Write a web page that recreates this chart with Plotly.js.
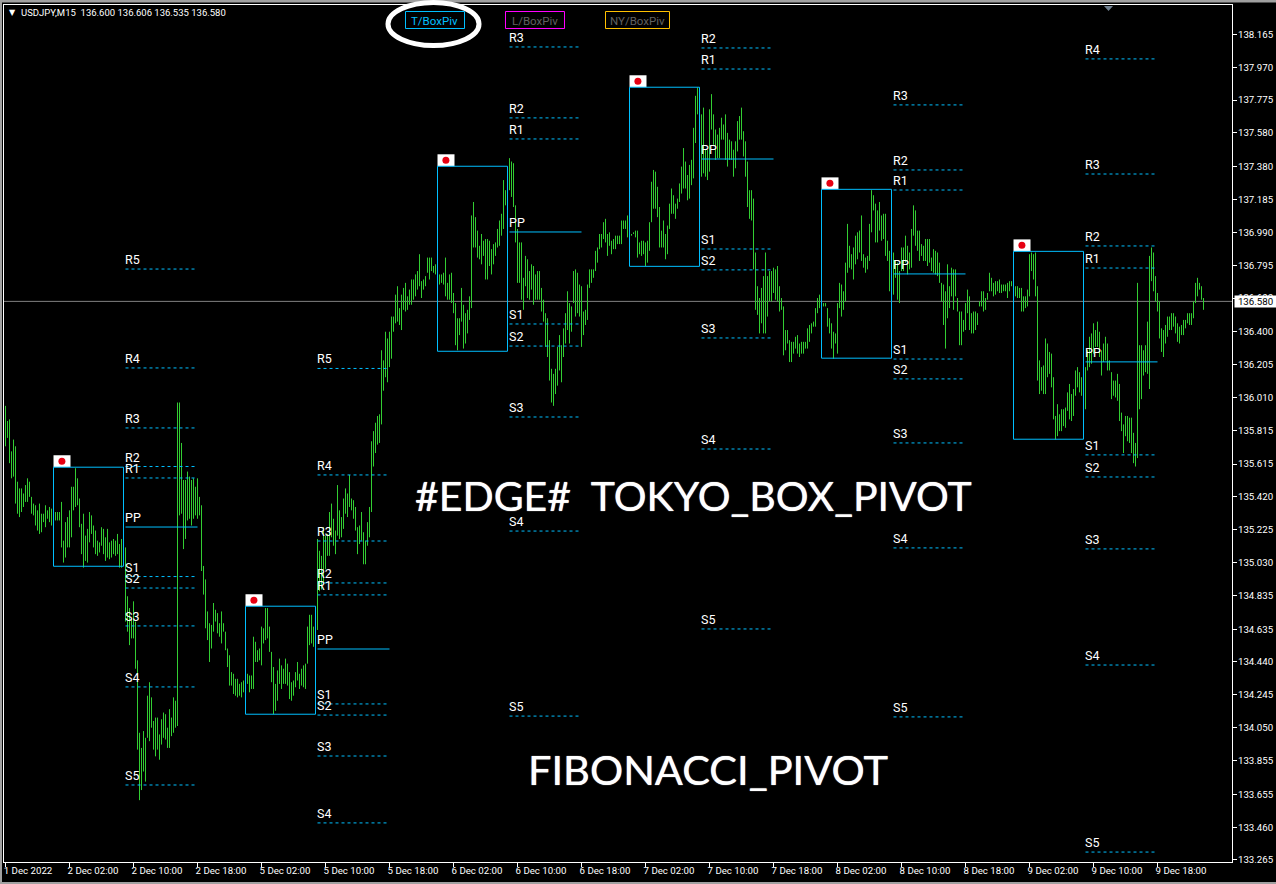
<!DOCTYPE html>
<html><head><meta charset="utf-8">
<script src="https://cdn.plot.ly/plotly-3.0.1.min.js"></script>
<style>html,body{margin:0;padding:0;background:#000;overflow:hidden}#c{width:1276px;height:884px}</style>
</head><body><div id="c"></div>
<script>
// High / low of each M15 bar
const barsA=[[135.96,135.72],[135.87,135.77],[135.88,135.62],[135.69,135.53],[135.76,135.54],[135.72,135.38],[135.51,135.32],[135.47,135.30],[135.47,135.33],[135.44,135.36],
[135.49,135.39],[135.53,135.39],[135.51,135.42],[135.42,135.32],[135.38,135.31],[135.37,135.25],[135.34,135.22],[135.38,135.20],[135.32,135.21],[135.32,135.27],
[135.37,135.24],[135.34,135.29],[135.36,135.27],[135.35,135.25],[135.36,135.30],[135.33,135.28],[135.33,135.28],[135.33,135.28],[135.39,135.12],[135.16,135.03],
[135.27,135.06],[135.30,135.12],[135.34,135.12],[135.48,135.18],[135.48,135.34],[135.59,135.36],[135.53,135.37],[135.41,135.24],[135.26,135.08],[135.32,135.00],
[135.19,135.04],[135.23,135.03],[135.33,135.15],[135.31,135.20],[135.25,135.12],[135.22,135.08],[135.16,135.07],[135.15,135.09],[135.24,135.13],[135.23,135.08],
[135.18,135.04],[135.23,135.06],[135.15,135.05],[135.16,135.06],[135.17,135.08],[135.16,135.07],[135.20,135.08],[135.14,135.00],[135.17,135.00],[135.17,135.02],
[135.12,134.68],[134.83,134.62],[134.76,134.54],[134.70,134.58],[134.80,134.58],[134.68,134.40],[134.45,133.92],[134.02,133.62],[133.93,133.68],[134.03,133.79],
[133.99,133.73],[134.24,133.99],[134.32,133.97],[134.23,134.05],[134.09,133.92],[134.11,133.88],[134.11,133.92],[134.01,133.86],[134.10,133.95],[134.14,133.99],
[134.13,133.98],[134.05,133.93],[134.16,133.93],[134.11,134.00],[134.23,134.02],[134.21,134.05],[135.98,134.06],[135.98,135.31],[135.74,135.32],[135.52,135.11],
[135.52,135.17],[135.57,135.28],[135.54,135.29],[135.52,135.25],[135.53,135.29],[135.48,135.31],[135.53,135.29],[135.42,135.31],[135.37,134.98],[135.01,134.84],
[134.93,134.64],[134.74,134.57],[134.67,134.44],[134.66,134.52],[134.79,134.62],[134.75,134.68],[134.73,134.61],[134.67,134.59],[134.74,134.55],[134.67,134.62],
[134.62,134.51],[134.52,134.41],[134.48,134.30],[134.38,134.30],[134.37,134.25],[134.34,134.24],[134.34,134.23],[134.31,134.24],[134.32,134.23],[134.33,134.26],
[134.36,134.31],[134.37,134.31],[134.36,134.26],[134.36,134.28],[134.59,134.28],[134.56,134.44],[134.51,134.44],[134.52,134.45],[134.65,134.42],[134.64,134.55],
[134.76,134.57],[134.76,134.58],[134.65,134.50],[134.50,134.32],[134.41,134.13],[134.31,134.15],[134.39,134.21],[134.46,134.31],[134.42,134.28],[134.40,134.31],
[134.46,134.31],[134.43,134.30],[134.38,134.22],[134.32,134.21],[134.33,134.24],[134.38,134.29],[134.44,134.33],[134.37,134.28],[134.40,134.30],[134.42,134.29],
[134.43,134.28],[134.65,134.43],[134.72,134.54],[134.72,134.55],[134.65,134.53],[134.62,134.50]];
const barsB=[[135.17,134.63],[135.10,134.86],[135.07,134.87],[135.24,134.91],[135.19,134.99],[135.20,135.07],[135.33,135.07],[135.38,135.18],[135.29,135.13],[135.22,135.08],
[135.49,135.19],[135.34,135.17],[135.30,135.18],[135.41,135.23],[135.47,135.32],[135.44,135.30],[135.55,135.36],[135.41,135.34],[135.40,135.29],[135.36,135.22],
[135.24,135.08],[135.25,135.14],[135.33,135.16],[135.21,135.02],[135.16,135.02],[135.27,135.13],[135.36,135.18],[135.75,135.33],[135.81,135.60],[135.86,135.68],
[135.90,135.73],[135.91,135.74],[136.29,135.85],[136.23,136.05],[136.40,136.13],[136.36,136.10],[136.40,136.19],[136.49,136.24],[136.49,136.40],[136.62,136.45],
[136.67,136.46],[136.54,136.44],[136.62,136.41],[136.66,136.53],[136.69,136.52],[136.61,136.53],[136.65,136.56],[136.71,136.56],[136.71,136.59],[136.74,136.61],
[136.76,136.65],[136.86,136.67],[136.70,136.60],[136.71,136.65],[136.73,136.67],[136.84,136.75],[136.84,136.71],[136.84,136.76],[136.79,136.75],[136.80,136.74],
[136.75,136.61],[136.74,136.68],[136.74,136.69],[136.75,136.68],[136.84,136.61],[136.69,136.59],[136.74,136.59],[136.75,136.57],[136.63,136.51],[136.57,136.32],
[136.48,136.29],[136.48,136.38],[136.66,136.46],[136.56,136.30],[136.51,136.33],[136.53,136.39],[136.61,136.47],[137.09,136.54],[137.17,136.90],[137.08,136.90],
[137.00,136.84],[136.91,136.83],[136.98,136.80],[136.94,136.85],[136.95,136.71],[136.95,136.71],[136.94,136.79],[136.89,136.74],[136.92,136.80],[136.93,136.85],
[137.01,136.90],[137.06,136.91],[137.10,136.97],[137.30,137.01],[137.24,137.15],[137.36,137.24],[137.43,137.24],[137.41,137.20],[137.40,137.14],[137.15,136.93],
[137.01,136.69],[136.93,136.69],[136.93,136.59],[136.72,136.53],[136.85,136.67],[136.83,136.60],[136.76,136.59],[136.80,136.65],[136.79,136.56],[136.74,136.59],
[136.76,136.59],[136.76,136.59],[136.66,136.52],[136.59,136.46],[136.51,136.31],[136.48,136.25],[136.35,136.11],[136.18,135.98],[136.15,135.96],[136.18,136.03],
[136.31,136.08],[136.38,136.17],[136.32,136.10],[136.42,136.25],[136.51,136.33],[136.64,136.41],[136.57,136.33],[136.55,136.40],[136.76,136.57],[136.77,136.49],
[136.75,136.51],[136.68,136.49],[136.67,136.31],[136.52,136.38],[136.53,136.44],[136.68,136.47],[136.77,136.66],[136.77,136.69],[136.77,136.72],[136.88,136.76],
[136.90,136.81],[136.98,136.89],[136.98,136.90],[137.05,136.95],[137.07,136.93],[136.98,136.85],[136.99,136.91],[136.94,136.86],[136.95,136.89],[136.97,136.89],
[136.97,136.92],[136.97,136.92]];
const barsC=[[137.06,136.92],[137.06,137.01],[137.06,137.01],[137.09,136.96],[137.08,136.98],[136.98,136.97],[136.99,136.98],[137.00,136.96],[137.00,136.84],[136.93,136.86],
[136.94,136.85],[136.94,136.86],[136.93,136.79],[136.94,136.81],[137.05,136.88],[137.29,137.05],[137.36,137.13],[137.35,137.13],[137.26,137.08],[137.14,136.90],
[137.00,136.90],[137.06,136.90],[136.98,136.83],[137.03,136.86],[137.16,137.01],[137.25,137.10],[137.21,137.10],[137.16,137.07],[137.19,137.13],[137.28,137.17],
[137.38,137.22],[137.49,137.25],[137.41,137.25],[137.33,137.18],[137.39,137.19],[137.42,137.27],[137.61,137.31],[137.80,137.52],[137.85,137.69],[137.76,137.56],
[137.69,137.32],[137.73,137.34],[137.48,137.32],[137.48,137.30],[137.72,137.35],[137.81,137.60],[137.69,137.51],[137.60,137.42],[137.57,137.43],[137.61,137.43],
[137.67,137.54],[137.63,137.54],[137.69,137.42],[137.58,137.38],[137.54,137.42],[137.53,137.42],[137.48,137.32],[137.53,137.37],[137.65,137.47],[137.68,137.54],
[137.73,137.54],[137.59,137.44],[137.53,137.32],[137.41,137.14],[137.24,137.07],[137.24,137.06],[137.19,136.77],[136.87,136.53],[136.67,136.50],[136.60,136.39],
[136.66,136.45],[136.73,136.39],[136.87,136.39],[136.73,136.49],[136.76,136.58],[136.76,136.58],[136.78,136.63],[136.77,136.59],[136.79,136.58],[136.67,136.52],
[136.60,136.53],[136.55,136.26],[136.41,136.29],[136.41,136.33],[136.35,136.22],[136.34,136.22],[136.34,136.27],[136.37,136.30],[136.38,136.27],[136.33,136.25],
[136.34,136.27],[136.34,136.27],[136.34,136.30],[136.42,136.30],[136.44,136.34],[136.45,136.39],[136.46,136.43],[136.54,136.43],[136.60,136.51],[136.62,136.54],
[136.59,136.51],[136.57,136.55],[136.57,136.55],[136.54,136.43],[136.48,136.39],[136.45,136.30],[136.40,136.24],[136.39,136.33],[136.57,136.27],[136.69,136.54],
[136.68,136.49],[136.64,136.53],[136.81,136.58],[137.04,136.75],[136.91,136.78],[136.86,136.77],[136.90,136.71],[136.97,136.80],[136.99,136.83],[137.00,136.87],
[137.09,136.82],[136.86,136.78],[136.84,136.75],[136.85,136.77],[137.04,136.82],[137.24,136.99],[137.21,137.12],[137.16,136.93],[137.12,136.93],[137.17,137.00],
[137.09,136.94],[137.10,136.95],[137.10,136.85],[136.94,136.82],[136.88,136.64],[136.86,136.69],[136.87,136.62],[136.82,136.72],[136.81,136.59],[136.76,136.57],
[136.90,136.76],[136.90,136.76],[136.97,136.81],[136.91,136.74],[136.87,136.77],[137.01,136.78],[137.15,136.97],[137.12,136.91],[137.00,136.88],[137.00,136.82]];
const barsD=[[136.92,136.85],[136.91,136.82],[136.95,136.82],[136.95,136.79],[136.95,136.81],[136.84,136.76],[136.89,136.75],[136.88,136.74],[136.87,136.73],[136.81,136.69],
[136.69,136.58],[136.68,136.44],[136.64,136.30],[136.80,136.48],[136.67,136.54],[136.78,136.61],[136.77,136.53],[136.77,136.61],[136.60,136.52],[136.52,136.32],
[136.52,136.32],[136.47,136.40],[136.57,136.41],[136.65,136.51],[136.61,136.41],[136.51,136.39],[136.52,136.39],[136.52,136.41],[136.51,136.44],[136.58,136.55],
[136.64,136.55],[136.64,136.52],[136.60,136.53],[136.63,136.59],[136.75,136.64],[136.72,136.64],[136.69,136.61],[136.70,136.62],[136.70,136.64],[136.71,136.63],
[136.68,136.63],[136.68,136.64],[136.68,136.64],[136.69,136.60],[136.70,136.64],[136.70,136.67],[136.67,136.62],[136.67,136.61],[136.67,136.60],[136.66,136.60],
[136.66,136.52],[136.61,136.52],[136.61,136.54],[136.65,136.55],[136.86,136.61],[136.87,136.76],[136.86,136.71],[136.87,136.61],[136.67,136.11],[136.23,136.03],
[136.19,136.05],[136.20,136.03],[136.36,136.03],[136.33,136.13],[136.28,136.15],[136.27,136.07],[136.13,135.88],[135.90,135.76],[135.97,135.78],[135.91,135.81],
[135.94,135.81],[135.94,135.84],[135.95,135.83],[136.04,135.93],[136.09,135.88],[136.03,135.87],[136.06,135.90],[136.17,136.02],[136.19,136.07],[136.16,136.04],
[136.13,136.02],[136.17,135.97],[136.19,135.94],[136.29,136.17],[136.37,136.19],[136.39,136.21],[136.45,136.27],[136.41,136.31],[136.46,136.31],[136.40,136.25],
[136.29,136.14],[136.33,136.22],[136.37,136.23],[136.33,136.17],[136.23,136.17],[136.16,136.00],[136.11,136.02],[136.11,136.01],[136.15,135.99],[136.09,135.87],
[135.92,135.81],[135.85,135.68],[135.90,135.78],[135.90,135.75],[135.89,135.74],[135.89,135.68],[135.80,135.62],[135.74,135.60],[136.69,135.65],[136.32,135.94],
[136.32,136.00],[136.29,136.14],[136.32,136.16],[136.46,136.15],[136.85,136.06],[136.90,136.70],[136.87,136.64],[136.73,136.58],[136.63,136.52],[136.58,136.36],
[136.42,136.28],[136.41,136.25],[136.44,136.33],[136.49,136.37],[136.49,136.41],[136.51,136.41],[136.51,136.43],[136.49,136.39],[136.45,136.34],[136.43,136.33],
[136.44,136.38],[136.47,136.38],[136.47,136.42],[136.51,136.45],[136.51,136.44],[136.51,136.44],[136.58,136.48],[136.69,136.57],[136.72,136.61],[136.69,136.65],
[136.67,136.59],[136.60,136.53]];
const bars=[...barsA,...barsB,...barsC,...barsD];

// Price scale and time scale
const priceTicks=[138.165,137.970,137.775,137.580,137.380,137.185,136.990,136.795,136.600,136.400,136.205,136.010,135.815,135.615,135.420,135.225,135.030,134.835,134.635,134.440,134.245,134.050,133.855,133.655,133.460,133.265];
const timeLabels=["1 Dec 2022","2 Dec 02:00","2 Dec 10:00","2 Dec 18:00","5 Dec 02:00","5 Dec 10:00","5 Dec 18:00","6 Dec 02:00","6 Dec 10:00","6 Dec 18:00","7 Dec 02:00","7 Dec 10:00","7 Dec 18:00","8 Dec 02:00","8 Dec 10:00","8 Dec 18:00","9 Dec 02:00","9 Dec 10:00","9 Dec 18:00"];
const lastPrice=136.58;

// Tokyo boxes: first bar, high, low
const boxStart=[24,120,216,312,408,504];
const boxHigh=[135.596,134.771,137.382,137.851,137.245,136.877];
const boxLow=[135.008,134.130,136.284,136.788,136.243,135.762];
const boxBars=35;

// Fibonacci pivot levels by day
const pivotStart=[60,156,252,348,444,540];
const pivotNames=[
 ["R5","R4","R3","R2","R1","PP","S1","S2","S3","S4","S5"],
 ["R5","R4","R3","R2","R1","PP","S1","S2","S3","S4"],
 ["R3","R2","R1","PP","S1","S2","S3","S4","S5"],
 ["R2","R1","PP","S1","S2","S3","S4","S5"],
 ["R3","R2","R1","PP","S1","S2","S3","S4","S5"],
 ["R4","R3","R2","R1","PP","S1","S2","S3","S4","S5"]];
const pivotLevels=[
 [136.772,136.185,135.829,135.600,135.532,135.241,134.947,134.879,134.654,134.292,133.710],
 [136.182,135.550,135.158,134.909,134.838,134.517,134.191,134.125,133.882,133.485],
 [138.090,137.669,137.544,136.992,136.446,136.315,135.894,135.217,134.119],
 [138.084,137.959,137.425,136.891,136.767,136.363,135.704,134.636],
 [137.746,137.360,137.241,136.743,136.238,136.120,135.740,135.117,134.114],
 [138.019,137.336,136.909,136.778,136.221,135.669,135.538,135.111,134.422,133.312]];

const LIME='#32CD32', SKY='#00BFFF';
const xRange=[-0.75,613.25], yRange=[133.253,138.339];
const tickBars=timeLabels.map((_,i)=>i*32);

// build traces from the data
const bx=[],by=[];
bars.forEach((b,i)=>{bx.push(i,i,null);by.push(b[0],b[1],null);});
const dx=[],dy=[],sx=[],sy=[],levelNotes=[];
pivotLevels.forEach((lv,g)=>{
  const s=pivotStart[g];
  lv.forEach((v,j)=>{
    const n=pivotNames[g][j];
    if(n==='PP'){sx.push(s,s+36,null);sy.push(v,v,null);}
    else{dx.push(s,s+34.5,null);dy.push(v,v,null);}
    levelNotes.push({xref:'x',yref:'y',x:s,y:v,text:n,showarrow:false,xanchor:'left',yanchor:'middle',xshift:-2,yshift:9.5,borderpad:0,
      font:{family:'Roboto',size:12.5,color:'#fff'}});
  });
});
const data=[
 {type:'scatter',mode:'lines',x:xRange,y:[lastPrice,lastPrice],line:{color:'#808080',width:1},hoverinfo:'skip'},
 {type:'scatter',mode:'lines',x:bx,y:by,line:{color:LIME,width:1,simplify:false},hoverinfo:'skip'},
 {type:'scatter',mode:'lines',x:dx,y:dy,line:{color:SKY,width:1,dash:'3px,3px',simplify:false},hoverinfo:'skip'},
 {type:'scatter',mode:'lines',x:sx,y:sy,line:{color:SKY,width:1,simplify:false},hoverinfo:'skip'},
 {type:'scatter',mode:'markers',x:boxStart.map(s=>s+4.2),y:boxHigh.map(h=>h+0.036),marker:{color:'#E60012',size:7,symbol:'circle'},hoverinfo:'skip'},
 {type:'scatter',mode:'none',x:[0],y:[135],xaxis:'x2',hoverinfo:'skip'}
];

const shapes=[];
boxStart.forEach((s,i)=>{
  shapes.push({type:'rect',xref:'x',yref:'y',x0:s,x1:s+boxBars,y0:boxLow[i],y1:boxHigh[i],line:{color:SKY,width:1},fillcolor:'rgba(0,0,0,0)',layer:'above'});
  shapes.push({type:'rect',xref:'x',yref:'y',x0:s,x1:s+8.5,y0:boxHigh[i],y1:boxHigh[i]+0.071,line:{width:0},fillcolor:'#fff',layer:'below'});
});
const W=1228,H=857;
const px=v=>(v-4)/W, py=v=>1-(v-5)/H;
function button(x0,x1,y0,y1,col){return {type:'rect',xref:'paper',yref:'paper',x0:px(x0),x1:px(x1),y0:py(y1),y1:py(y0),line:{color:col,width:1},fillcolor:'#000',layer:'above'};}
function band(x0,x1,y0,y1){return {type:'rect',xref:'paper',yref:'paper',x0:px(x0),x1:px(x1),y0:py(y1),y1:py(y0),line:{width:0},fillcolor:'#A0A0A0',layer:'above'};}
shapes.push(band(0,1276,0,2.5),band(0,2,0,884),band(0,1276,882,884));
shapes.push(button(405.5,464.5,11.5,28.5,SKY),button(505.5,564.5,11.5,28.5,'#FF00FF'),button(605.5,669.5,11.5,28.5,'#FFC000'));
shapes.push({type:'circle',xref:'paper',yref:'paper',x0:px(388),x1:px(479),y0:py(45.5),y1:py(2.5),line:{color:'#fff',width:5},layer:'above'});
shapes.push({type:'path',xref:'paper',yref:'paper',path:`M ${px(1104)} ${py(6)} L ${px(1113)} ${py(6)} L ${px(1108.5)} ${py(11)} Z`,fillcolor:'#708090',line:{width:0},layer:'above'});

function note(text,x,y,font,extra){return Object.assign({xref:'paper',yref:'paper',x:px(x),y:py(y),text,showarrow:false,font,xanchor:'center',yanchor:'middle'},extra||{});}
const annotations=[
 ...levelNotes,
 note('▼',12,13,{family:'DejaVu Sans',size:8,color:'#fff'}),
 note('USDJPY,M15  136.600 136.606 136.535 136.580',18.5,13,{family:'Roboto',size:9.5,color:'#fff'},{xanchor:'left'}),
 note('T/BoxPiv',434.5,20.5,{family:'Roboto',size:11.5,color:SKY}),
 note('L/BoxPiv',534.5,20.5,{family:'Roboto',size:11.5,color:'#606060'}),
 note('NY/BoxPiv',637,20.5,{family:'Roboto',size:11.5,color:'#606060'}),
 note('#EDGE#  TOKYO_BOX_PIVOT',693,495,{family:'Lato',size:41,color:'#fff',shadow:'0 0 1px #fff'}),
 note('FIBONACCI_PIVOT',708,769,{family:'Lato',size:41.5,color:'#fff',shadow:'0 0 1px #fff'}),
 {xref:'paper',yref:'y',x:px(1234),y:lastPrice,text:'136.580',showarrow:false,xanchor:'left',yanchor:'middle',bgcolor:'#fff',font:{family:'Roboto',size:9.7,color:'#000'},width:41,height:11,borderpad:0}
];

const layout={
 width:1276,height:884,margin:{l:4,r:44,t:5,b:22,pad:0},
 paper_bgcolor:'#000',plot_bgcolor:'#000',showlegend:false,
 xaxis:{range:xRange,showgrid:false,zeroline:false,showline:true,mirror:true,linecolor:'#fff',linewidth:1,
   tickmode:'array',tickvals:tickBars,ticktext:tickBars.map(()=>''),ticks:'outside',ticklen:4,tickcolor:'#fff',tickwidth:1,fixedrange:true},
 xaxis2:{range:xRange,overlaying:'x',anchor:'y',side:'bottom',showgrid:false,zeroline:false,showline:false,
   ticks:'',
   ticklabelstandoff:1,tickmode:'array',tickvals:tickBars.map((b,i)=>b+(i===0?11.25:11.75)),ticktext:timeLabels,tickangle:0,
   tickfont:{family:'Roboto',size:9.7,color:'#fff'},fixedrange:true},
 yaxis:{range:yRange,side:'right',showgrid:false,zeroline:false,showline:true,mirror:true,linecolor:'#fff',linewidth:1,
   tickmode:'array',tickvals:priceTicks,ticktext:priceTicks.map(v=>v.toFixed(3)),ticks:'outside',ticklen:4,tickcolor:'#fff',tickwidth:1,
   ticklabelstandoff:-1,tickfont:{family:'Roboto',size:9.7,color:'#fff'},fixedrange:true},
 shapes,annotations
};
Plotly.newPlot('c',data,layout,{displayModeBar:false,staticPlot:true});
</script></body></html>
